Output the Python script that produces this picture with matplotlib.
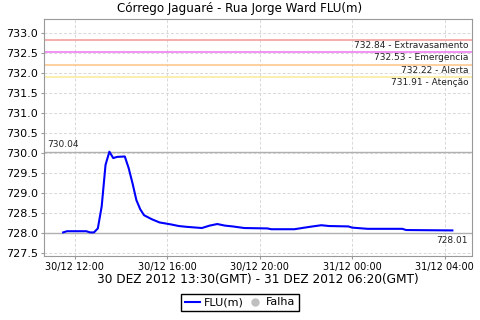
'''
Nivel do Corrego Jaguare - Rua Jorge Ward (FLU) em 30-31/12/2012
'''
from datetime import datetime
import matplotlib
matplotlib.use("Agg")
import matplotlib.pyplot as plt
import matplotlib.dates as mdates
from matplotlib.lines import Line2D

# leituras (hora local, nivel em m)
times = ["30/12 11:30", "30/12 11:40", "30/12 12:30", "30/12 12:40", "30/12 12:50",
         "30/12 13:00", "30/12 13:10", "30/12 13:20", "30/12 13:30", "30/12 13:40",
         "30/12 13:50", "30/12 14:10", "30/12 14:20", "30/12 14:30", "30/12 14:40",
         "30/12 14:50", "30/12 15:00", "30/12 15:20", "30/12 15:40", "30/12 16:10",
         "30/12 16:30", "30/12 16:50", "30/12 17:30", "30/12 17:50", "30/12 18:10",
         "30/12 18:30", "30/12 18:50", "30/12 19:20", "30/12 20:20", "30/12 20:30",
         "30/12 21:30", "30/12 21:50", "30/12 22:10", "30/12 22:40", "30/12 23:00",
         "30/12 23:50", "31/12 00:00", "31/12 00:40", "31/12 02:10", "31/12 02:20",
         "31/12 04:20"]
levels = [728.02, 728.05, 728.05, 728.02, 728.02,
          728.12, 728.67, 729.71, 730.04, 729.88,
          729.91, 729.92, 729.63, 729.25, 728.83,
          728.60, 728.45, 728.35, 728.27, 728.22,
          728.18, 728.16, 728.13, 728.19, 728.23,
          728.19, 728.17, 728.13, 728.12, 728.10,
          728.10, 728.13, 728.16, 728.20, 728.18,
          728.17, 728.14, 728.11, 728.11, 728.08,
          728.07]

# cotas de alerta
limit_values = [732.84, 732.53, 732.22, 731.91]
limit_names = ["Extravasamento", "Emergencia", "Alerta", "Atenção"]
limit_colors = ["#f4a0a0", "#f080f0", "#ffc890", "#f8eca0"]

max_level = 730.04
last_level = 728.01

xticks = ["30/12 12:00", "30/12 16:00", "30/12 20:00", "31/12 00:00", "31/12 04:00"]
yticks = [727.5, 728.0, 728.5, 729.0, 729.5, 730.0, 730.5, 731.0,
          731.5, 732.0, 732.5, 733.0]


def to_dt(s):
    return datetime.strptime("2012/" + s, "%Y/%d/%m %H:%M")


dts = [to_dt(s) for s in times]

fig = plt.figure(figsize=(4.8, 3.2), dpi=100)
ax = fig.add_axes([0.091, 0.2, 0.892, 0.7406])

ax.grid(True, color="#d8d8d8", linestyle=(0, (3, 2)), linewidth=0.7)
ax.set_axisbelow(True)

for val, name, col in zip(limit_values, limit_names, limit_colors):
    ax.axhline(val, color=col, linewidth=1.2)
    ax.text(0.993, val - 0.03, "%.2f - %s" % (val, name), transform=ax.get_yaxis_transform(),
            ha="right", va="top", fontsize=6.5, color="#222222")

ax.axhline(max_level, color="#b0b0b0", linewidth=1.0)
ax.text(0.008, max_level + 0.06, "%.2f" % max_level, transform=ax.get_yaxis_transform(),
        ha="left", va="bottom", fontsize=6.5, color="#222222")
ax.axhline(last_level, color="#b0b0b0", linewidth=1.0)
ax.text(0.99, last_level - 0.07, "%.2f" % last_level, transform=ax.get_yaxis_transform(),
        ha="right", va="top", fontsize=6.5, color="#222222")

ax.plot(dts, levels, color="#0000ff", linewidth=1.5)

ax.set_ylim(727.43, 733.36)
ax.set_yticks(yticks)
ax.set_yticklabels(["%.1f" % v for v in yticks], fontsize=8)
ax.set_xticks([to_dt(s) for s in xticks])
ax.xaxis.set_major_formatter(mdates.DateFormatter("%d/%m %H:%M"))
ax.margins(x=0.05)
plt.setp(ax.get_xticklabels(), fontsize=7)

for sp in ax.spines.values():
    sp.set_color("#999999")
ax.tick_params(color="#999999", length=2, pad=2)

fig.text(0.5, 0.972, "Córrego Jaguaré - Rua Jorge Ward FLU(m)", fontsize=8.6,
         ha="center", va="center")
ax.set_xlabel("30 DEZ 2012 13:30(GMT) - 31 DEZ 2012 06:20(GMT)", fontsize=8.7, labelpad=1)

handles = [Line2D([], [], color="#0000ff", linewidth=1.5),
           Line2D([], [], color="#c0c0c0", marker="o", linestyle="none", markersize=5)]
fig.legend(handles, ["FLU(m)", "Falha"], loc="center", bbox_to_anchor=(0.5, 0.055),
           ncols=2, fontsize=8, fancybox=False, edgecolor="black", framealpha=1,
           handlelength=1.4, handletextpad=0.3, columnspacing=0.3, borderpad=0.3)

fig.savefig("out.png", dpi=100)
